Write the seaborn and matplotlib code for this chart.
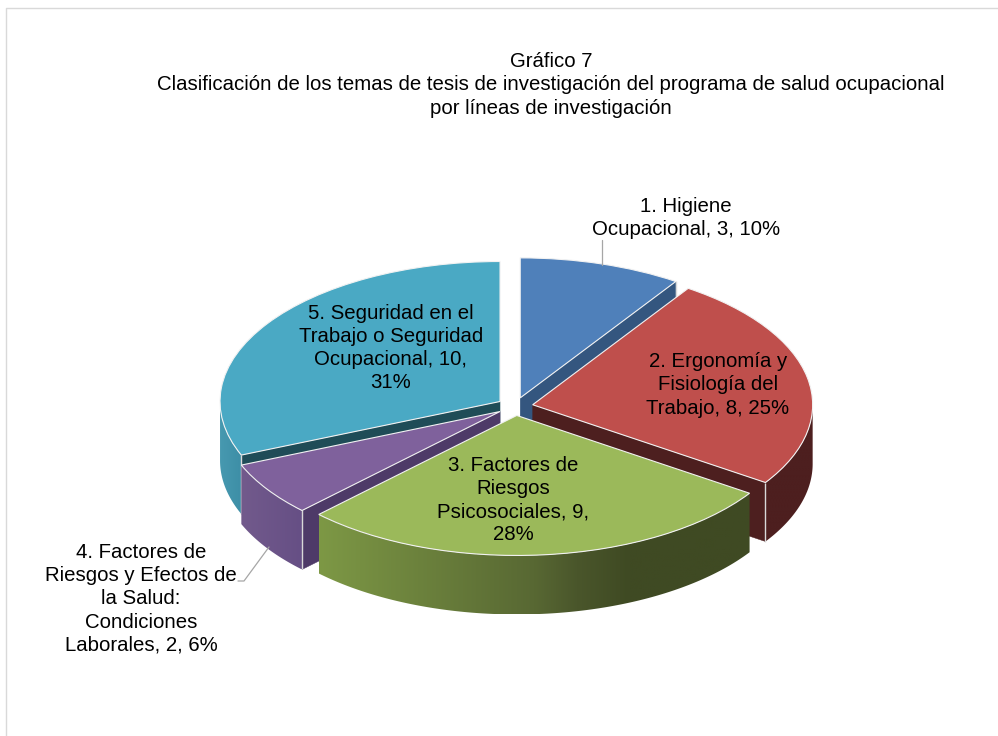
import numpy as np
import matplotlib
matplotlib.use("Agg")
import matplotlib.pyplot as plt
from matplotlib.colors import LinearSegmentedColormap
from matplotlib.lines import Line2D
from matplotlib.patches import Polygon
import seaborn as sns

title_lines = "Gráfico 7\nClasificación de los temas de tesis de investigación del programa de salud ocupacional\npor líneas de investigación"
counts = [3, 8, 9, 2, 10]
label_text = ["1. Higiene\nOcupacional, 3, 10%", "2. Ergonomía y\nFisiología del\nTrabajo, 8, 25%",
              "3. Factores de\nRiesgos\nPsicosociales, 9,\n28%",
              "4. Factores de\nRiesgos y Efectos de\nla Salud:\nCondiciones\nLaborales, 2, 6%",
              "5. Seguridad en el\nTrabajo o Seguridad\nOcupacional, 10,\n31%"]

top_colors = ["#4f80ba", "#bf4f4c", "#9bb95a", "#7f619c", "#4aa9c4"]
cut_colors = ["#34567f", "#4d1f1f", "#3f4a23", "#4e3a68", "#1f4c57"]
rim_stops = [[(0, "#34567f"), (1, "#34567f")],
             [(0, "#4d1f1f"), (1, "#4d1f1f")],
             [(0, "#7d9845"), (0.5, "#586833"), (0.6, "#4a562b"), (0.72, "#3f4a23"), (1, "#3f4a23")],
             [(0, "#725a8c"), (1, "#664f85")],
             [(0, "#4799b0"), (1, "#3d8ea6")]]
draw_order = [0, 4, 1, 3, 2]
label_px = [(686, 218), (718, 385), (513, 500), (141, 599), (391, 348)]

W, H = 998, 736
CX, CY, RX, RY, DEPTH, GAP = 515.0, 406.5, 280.0, 140.0, 59.0, 18.0

sns.set_theme(style="white")
plt.rcParams["font.family"] = ["Liberation Sans", "DejaVu Sans"]
palette = sns.color_palette(top_colors)

fig = plt.figure(figsize=(W / 100, H / 100), dpi=100, facecolor="white")
ax = fig.add_axes([0, 0, 1, 1])
wedges, _ = ax.pie(counts, colors=palette, startangle=90, counterclock=False,
                   explode=[GAP / RX] * len(counts),
                   wedgeprops={"edgecolor": "#f2f2f2", "linewidth": 0.8})

d = DEPTH / RY
edge = "#d8d8d8"
for rank, i in enumerate(draw_order):
    w = wedges[i]
    cx, cy = w.center
    t1, t2 = w.theta1, w.theta2
    z = 2 + rank * 2
    w.set_zorder(z + 1)
    # radial cut faces that look toward the viewer
    for t, show in ((t1, np.cos(np.radians(t1)) > 1e-6), (t2, np.cos(np.radians(t2)) < -1e-6)):
        if show:
            rx = cx + np.cos(np.radians(t)); ry = cy + np.sin(np.radians(t))
            ax.fill([cx, rx, rx, cx], [cy, ry, ry - d, cy - d], color=cut_colors[i], lw=0.3, zorder=z)
            ax.plot([rx, rx], [ry, ry - d], color=edge, lw=1.0, zorder=z + 0.5, solid_capstyle="butt")
    # outer rim, only its lower half can be seen; shaded left to right
    a = np.radians(np.linspace(t1, t2, 400))
    a = a[np.sin(a) < 1e-6]
    if len(a) > 1:
        xs = cx + np.cos(a); ys = cy + np.sin(a)
        poly = np.column_stack((np.r_[xs, xs[::-1]], np.r_[ys, ys[::-1] - d]))
        clip = Polygon(poly, closed=True, transform=ax.transData)
        cmap = LinearSegmentedColormap.from_list(f"rim{i}", rim_stops[i])
        im = ax.imshow(np.linspace(0, 1, 256)[None, :], cmap=cmap, vmin=0, vmax=1,
                       extent=(xs.min(), xs.max(), (ys - d).min(), ys.max()),
                       aspect="auto", zorder=z, interpolation="bilinear")
        im.set_clip_path(clip)

ax.set_aspect("auto")
ax.set_xlim(-CX / RX, (W - CX) / RX)
ax.set_ylim(-(H - CY) / RY, CY / RY)
ax.axis("off")

def fx(x): return x / W
def fy(y): return 1 - y / H

fig.text(fx(551), fy(85), title_lines, ha="center", va="center", multialignment="center",
         fontsize=14.65, linespacing=1.27, color="black")
for txt, (x, y) in zip(label_text, label_px):
    fig.text(fx(x), fy(y), txt, ha="center", va="center", multialignment="center",
             fontsize=14.65, linespacing=1.27, color="black", zorder=50)

leaders = [([602, 602], [240, 265]), ([269, 244, 238], [547, 581, 581])]
for xs, ys in leaders:
    fig.add_artist(Line2D([fx(v) for v in xs], [fy(v) for v in ys], color="#a6a6a6", lw=0.9))
fig.add_artist(Line2D([fx(6), fx(6), fx(998)], [fy(736), fy(8), fy(8)], color="#d9d9d9", lw=1.0))

fig.savefig("out.png", dpi=100, facecolor="white")
